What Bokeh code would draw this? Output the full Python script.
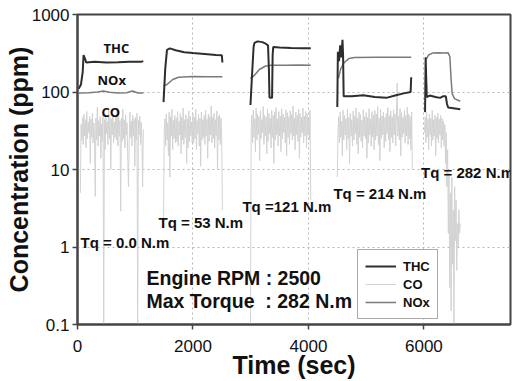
import numpy as np
from bokeh.plotting import figure
from bokeh.models import (FixedTicker, CustomJSTickFormatter, Label, Legend, LegendItem)
from bokeh.embed import file_html
from bokeh.resources import INLINE

NAN = float("nan")

# ---------------- data ----------------
# THC (time s, ppm), test segments separated by NaN
thc_t = [20, 60, 90, 105, 130, 150, 300, 500, 700, 900, 1100, 1140, NAN,
         1490, 1520, 1550, 1600, 1700, 1850, 2000, 2200, 2400, 2500, 2510, NAN,
         2996, 3020, 3050, 3065, 3120, 3200, 3260, 3300, 3315, 3325, 3370, 3380, 3390, 3500, 3700, 3900, 4040, NAN,
         4500, 4510, 4530, 4550, 4570, 4590, 4600, 4610, 4750, 4950, 5150, 5350, 5500, 5650, 5770, 5780, NAN,
         6020, 6030, 6040, 6050, 6100, 6200, 6280, 6330, 6380, 6400, 6420, 6630]
thc_v = [110, 125, 180, 300, 270, 240, 245, 240, 242, 245, 245, 250, NAN,
         74, 200, 350, 365, 345, 325, 318, 310, 300, 298, 240, NAN,
         68, 150, 380, 430, 450, 440, 420, 400, 200, 85, 84, 300, 380, 375, 370, 368, 367, NAN,
         64, 330, 250, 400, 280, 470, 300, 88, 88, 91, 86, 84, 90, 96, 100, 155, NAN,
         55, 280, 150, 86, 90, 86, 84, 88, 88, 70, 63, 60]

nox_t = [20, 200, 350, 450, 550, 700, 850, 950, 1050, 1140, NAN,
         1490, 1550, 1650, 1750, 2000, 2250, 2510, NAN,
         2996, 3050, 3150, 3250, 3350, 3600, 3850, 4040, NAN,
         4520, 4560, 4620, 4700, 4800, 5200, 5500, 5780, NAN,
         6030, 6080, 6150, 6250, 6350, 6420, 6450, 6470, 6490, 6530, 6630]
nox_v = [97, 98, 100, 103, 99, 97, 98, 103, 97, 97, NAN,
         120, 125, 145, 155, 158, 157, 157, NAN,
         150, 160, 195, 215, 222, 222, 223, 222, NAN,
         150, 200, 240, 270, 278, 280, 281, 280, NAN,
         255, 300, 318, 322, 318, 320, 285, 150, 95, 82, 76]

# CO: recorded values per test segment (ppm), evenly sampled from start to end time
co_seg1 = [5, 38, 24, 47, 21, 52, 27, 44, 19, 56,
           25, 41, 30, 49, 12, 45, 26, 53, 22, 40,
           28, 4.5, 46, 24, 64, 20, 43, 27, 48, 14,
           39, 23, 55, 0.1, 44, 18, 50, 29, 42, 21,
           58, 25, 47, 10, 45, 28, 52, 22, 41, 26,
           49, 24, 62, 20, 54, 27, 43, 2.9, 46, 23,
           60, 25, 44, 19, 51, 28, 40, 14, 6, 22,
           55, 26, 42, 20, 50, 27, 45, 11, 47, 24,
           53, 0.1, 43, 28, 49, 21, 41, 25, 6, 33]
co_seg2 = [2, 30, 45, 20, 52, 24, 40, 15, 55, 8,
           48, 27, 60, 18, 43, 25, 50, 22, 46, 23,
           56, 20, 42, 28, 53, 16, 47, 24, 62, 21,
           44, 26, 51, 12, 45, 19, 57, 23, 49, 27,
           41, 22, 54, 22, 47, 25, 60, 18, 43, 29,
           52, 20, 46, 11, 55, 24, 44, 26, 50, 21,
           58, 27, 45, 14, 52, 23, 48, 28, 66, 22,
           47, 25, 53, 19, 44, 27, 57, 10, 49, 24,
           51, 21, 46, 26, 3]
co_seg3 = [0.1, 35, 50, 22, 58, 26, 45, 17, 62, 24,
           52, 28, 48, 13, 57, 25, 44, 30, 65, 21,
           50, 27, 47, 16, 60, 23, 53, 29, 46, 19,
           58, 26, 50, 12, 55, 24, 63, 28, 45, 20,
           56, 27, 49, 17, 61, 25, 52, 30, 47, 22,
           59, 15, 54, 26, 48, 21, 57, 29, 51, 24,
           66, 27, 46, 18, 55, 28, 50, 23, 60, 14,
           53, 26, 47, 30, 62, 22, 49, 27, 56, 19,
           52, 28, 45, 24, 58, 4]
co_seg4 = [8, 32, 48, 22, 55, 26, 42, 15, 58, 24,
           50, 28, 45, 18, 60, 25, 47, 12, 53, 27,
           44, 20, 57, 24, 49, 29, 62, 21, 46, 16,
           55, 26, 51, 23, 43, 19, 59, 27, 48, 25,
           54, 14, 47, 22, 61, 28, 45, 20, 56, 26,
           50, 18, 58, 24, 52, 27, 65, 21, 46, 13,
           60, 25, 49, 28, 55, 19, 47, 23, 53, 29,
           63, 24, 50, 17, 57, 26, 48, 22, 59, 28,
           52, 20, 56, 130, 27, 49, 24, 61, 15, 54,
           26, 47, 29, 58, 22, 50, 27, 64, 21, 52,
           25, 48, 18, 55, 10]
co_seg5 = [30, 48, 22, 55, 26, 45, 18, 52, 28, 46,
           20, 58, 24, 44, 27, 50, 15, 47, 25, 53,
           22, 45, 28, 50, 19, 46, 24, 42, 20, 38,
           12, 30, 6, 18, 1.5, 9, 0.3, 5, 0.15, 8,
           0.6, 3, 0.1, 6, 1.2, 4, 0.5, 2, 1.0, 3, 1.5, 2]
co_segments = [(50, 1140, co_seg1), (1490, 2510, co_seg2), (2996, 4040, co_seg3),
               (4500, 5800, co_seg4), (6010, 6630, co_seg5)]

x_ticks = [0, 2000, 4000, 6000]
y_ticks = [0.1, 1, 10, 100, 1000]

co_t, co_v = [], []
for (t0, t1, vals) in co_segments:
    co_t += list(np.linspace(t0, t1, len(vals))) + [NAN]
    co_v += list(vals) + [NAN]

# ---------------- figure ----------------
FONT = "Liberation Sans"
p = figure(width=514, height=381, x_range=(0, 7500), y_range=(0.1, 1000),
           y_axis_type="log", output_backend="svg", toolbar_location=None,
           min_border_left=77, min_border_right=4, min_border_top=14, min_border_bottom=55)
p.background_fill_color = "white"
p.border_fill_color = "white"
p.outline_line_color = "#444444"
p.outline_line_width = 2

co_r = p.line(co_t, co_v, color="#d2d2d2", line_width=1)
nox_r = p.line(nox_t, nox_v, color="#7a7a7a", line_width=1.5)
thc_r = p.line(thc_t, thc_v, color="#2e2e2e", line_width=2)

p.xaxis.ticker = FixedTicker(ticks=x_ticks)
p.yaxis.ticker = FixedTicker(ticks=y_ticks)
p.yaxis.formatter = CustomJSTickFormatter(code="return tick.toString();")
for ax in (p.xaxis, p.yaxis):
    ax.axis_line_color = "#444444"
    ax.axis_line_width = 2
    ax.major_tick_line_color = "#444444"
    ax.major_tick_line_width = 1.5
    ax.major_tick_out = 5
    ax.major_tick_in = 0
    ax.minor_tick_line_color = None
    ax.major_label_text_font = FONT
    ax.major_label_text_font_size = "17px"
    ax.major_label_text_color = "#111111"
    ax.axis_label_text_font = FONT
    ax.axis_label_text_font_size = "25px"
    ax.axis_label_text_font_style = "bold"
    ax.axis_label_text_color = "#111111"
p.xaxis.axis_label = "Time (sec)"
p.yaxis.axis_label = "Concentration (ppm)"
p.xaxis.major_label_standoff = 10
p.xaxis.axis_label_standoff = -4
p.yaxis.major_label_standoff = 3
p.yaxis.axis_label_standoff = -4

p.xgrid.ticker = FixedTicker(ticks=[2000, 4000, 6000])
p.ygrid.ticker = FixedTicker(ticks=[1, 10, 100])
p.grid.grid_line_color = "#b8b8b8"
p.grid.grid_line_dash = "2 3"
p.grid.grid_line_width = 1

def add_label(x, y, text, size, font=FONT, style="bold"):
    p.add_layout(Label(x=x, y=y, text=text, text_font=font, text_font_size=size,
                       text_font_style=style, text_color="#111111",
                       text_align="left", text_baseline="middle"))

add_label(450, 366, "THC", "13px", font="Open Sans")
add_label(346, 143, "NOx", "13px", font="Open Sans")
add_label(416, 55, "CO", "13px", font="Open Sans")
add_label(52, 1.16, "Tq = 0.0 N.m", "15px")
add_label(1403, 2.09, "Tq = 53 N.m", "15px")
add_label(2857, 3.36, "Tq =121 N.m", "15px")
add_label(4433, 4.92, "Tq = 214 N.m", "15px")
add_label(5950, 9.16, "Tq = 282 N.m", "15px")
add_label(1195, 0.40, "Engine RPM : 2500", "19.5px")
add_label(1195, 0.203, "Max Torque\u00a0 : 282 N.m", "19.5px")

legend = Legend(items=[LegendItem(label="THC", renderers=[thc_r]),
                       LegendItem(label="CO", renderers=[co_r]),
                       LegendItem(label="NOx", renderers=[nox_r])],
                location=(280, 5))
legend.label_text_font = FONT
legend.label_text_font_size = "13px"
legend.label_text_font_style = "bold"
legend.label_text_color = "#111111"
legend.glyph_width = 31
legend.glyph_height = 18
legend.label_height = 18
legend.spacing = 0
legend.padding = 7
legend.margin = 0
legend.label_standoff = 7
legend.border_line_color = "#555555"
legend.border_line_width = 1
legend.background_fill_alpha = 1
p.add_layout(legend)

open("out.html", "w").write(file_html(p, INLINE))
